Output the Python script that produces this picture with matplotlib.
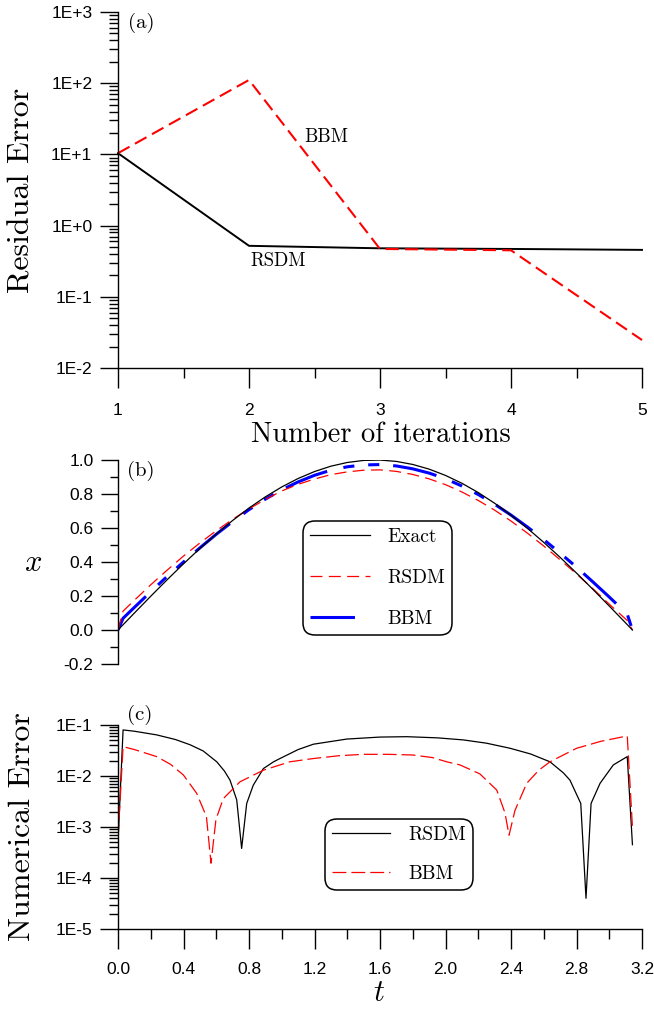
import numpy as np
import matplotlib
matplotlib.use("Agg")
import matplotlib.pyplot as plt
from matplotlib.ticker import FixedLocator, LogLocator, NullFormatter, FuncFormatter, MultipleLocator

# ---------------- data ----------------
# (a) residual error per iteration
iterations = [1, 2, 3, 4, 5]
rsdm_residual = [10.4, 0.52, 0.48, 0.47, 0.456]
bbm_residual = [10.4, 111.0, 0.47, 0.45, 0.0247]

# (b) solution x(t)
t_sol = [0.0, 0.031, 0.1, 0.2, 0.3, 0.4, 0.5, 0.6, 0.7, 0.8, 0.9, 1.0, 1.1, 1.2,
         1.3, 1.4, 1.5, 1.6, 1.7, 1.8, 1.9, 2.0, 2.1, 2.2, 2.3, 2.4, 2.5, 2.6,
         2.7, 2.8, 2.9, 3.0, 3.11, 3.1416]
x_exact = [0.0, 0.031, 0.0998, 0.1987, 0.2955, 0.3894, 0.4794, 0.5646, 0.6442,
           0.7174, 0.7833, 0.8415, 0.8912, 0.9320, 0.9636, 0.9854, 0.9975, 0.9996,
           0.9917, 0.9738, 0.9463, 0.9093, 0.8632, 0.8085, 0.7457, 0.6755, 0.5985,
           0.5155, 0.4274, 0.3350, 0.2392, 0.1411, 0.0316, 0.0]
x_rsdm = [0.0, 0.111, 0.175, 0.266, 0.352, 0.435, 0.512, 0.584, 0.651, 0.713,
          0.768, 0.818, 0.857, 0.888, 0.914, 0.930, 0.940, 0.942, 0.933, 0.915,
          0.889, 0.855, 0.812, 0.762, 0.705, 0.641, 0.570, 0.494, 0.413, 0.330,
          0.243, 0.152, 0.056, 0.0]
x_bbm = [0.0, 0.069, 0.133, 0.225, 0.315, 0.400, 0.483, 0.563, 0.638, 0.708,
         0.770, 0.825, 0.871, 0.910, 0.940, 0.960, 0.971, 0.973, 0.965, 0.948,
         0.923, 0.890, 0.847, 0.797, 0.740, 0.676, 0.606, 0.532, 0.452, 0.370,
         0.283, 0.194, 0.093, 0.0]

# (c) absolute numerical error
t_err_rsdm = [0.0, 0.031, 0.1, 0.236, 0.35, 0.44, 0.52, 0.603, 0.65, 0.684, 0.725,
              0.755, 0.786, 0.826, 0.888, 0.95, 0.989, 1.1, 1.193, 1.397, 1.6, 1.763,
              1.95, 2.109, 2.25, 2.394, 2.52, 2.638, 2.72, 2.76, 2.826, 2.858, 2.889,
              2.944, 3.025, 3.11, 3.1416]
err_rsdm = [5e-4, 0.080, 0.0755, 0.064, 0.052, 0.041, 0.031, 0.019, 0.0125, 0.0083,
            0.0034, 3.8e-4, 0.0029, 0.0066, 0.014, 0.019, 0.022, 0.033, 0.042, 0.053,
            0.058, 0.059, 0.056, 0.051, 0.044, 0.035, 0.027, 0.019, 0.0115, 0.0083,
            0.0029, 4.0e-5, 0.0029, 0.0072, 0.0165, 0.024, 4.5e-4]
t_err_bbm = [0.0, 0.031, 0.1, 0.236, 0.32, 0.399, 0.48, 0.54, 0.568, 0.598, 0.643,
             0.745, 0.888, 1.05, 1.193, 1.35, 1.498, 1.65, 1.80, 1.92, 2.007, 2.088,
             2.21, 2.313, 2.363, 2.388, 2.424, 2.496, 2.57, 2.638, 2.801, 2.95, 3.11,
             3.1416]
err_bbm = [6e-4, 0.0376, 0.033, 0.024, 0.017, 0.0105, 0.0046, 0.0016, 1.95e-4, 0.0014,
           0.0036, 0.0077, 0.013, 0.019, 0.022, 0.025, 0.0266, 0.0266, 0.0258, 0.023,
           0.019, 0.0165, 0.011, 0.0053, 0.0019, 6.9e-4, 0.0021, 0.0072, 0.013, 0.019,
           0.035, 0.048, 0.061, 1.0e-3]

# ---------------- style ----------------
plt.rcParams['mathtext.fontset'] = 'cm'
plt.rcParams['lines.scale_dashes'] = False
plt.rcParams['font.family'] = ['Liberation Sans Narrow', 'Liberation Sans', 'DejaVu Sans']
plt.rcParams['axes.linewidth'] = 1.0

SERIF = 'cmr10'
TICK_SIZE = 12.5
W, H = 654, 1011
fig = plt.figure(figsize=(W / 100, H / 100), dpi=100)


def box(left, top, right, bottom):
    return [left / W, 1 - bottom / H, (right - left) / W, (bottom - top) / H]


def fig_xy(x, y):
    return x / W, 1 - y / H


def power_label(v, _):
    return "1E{:+d}".format(int(round(np.log10(v))))


def plain_label(v, _):
    return "{:.1f}".format(v)


def base_style(ax):
    for s in ('top', 'right'):
        ax.spines[s].set_visible(False)
    ax.tick_params(which='both', direction='out', labelsize=TICK_SIZE, width=1.0, color='black')


# ---------------- (a) ----------------
ax1 = fig.add_axes(box(118, 12, 642, 368))
base_style(ax1)
ax1.set_yscale('log')
ax1.plot(iterations, rsdm_residual, color='black', lw=1.4, clip_on=False)
ax1.plot(iterations, bbm_residual, color='#ff0000', lw=1.5, dashes=(9.5, 4.5), clip_on=False)
ax1.set_xlim(1, 5)
ax1.set_ylim(1e-2, 1e3)
ax1.xaxis.set_major_locator(FixedLocator(iterations))
ax1.xaxis.set_minor_locator(MultipleLocator(0.5))
ax1.yaxis.set_major_locator(LogLocator(base=10, numticks=10))
ax1.yaxis.set_minor_locator(LogLocator(base=10, subs=np.arange(2, 10), numticks=100))
ax1.yaxis.set_major_formatter(FuncFormatter(power_label))
ax1.yaxis.set_minor_formatter(NullFormatter())
ax1.tick_params(axis='y', which='major', length=13, pad=5.5)
ax1.tick_params(axis='y', which='minor', length=6.5)
ax1.tick_params(axis='x', which='major', length=14.5, pad=11)
ax1.tick_params(axis='x', which='minor', length=7.2)
ax1.xaxis.set_major_formatter(FuncFormatter(lambda v, _: "{:d}".format(int(v))))

fig.text(*fig_xy(22, 190), 'Residual Error', rotation=90, family=SERIF, size=23,
         ha='center', va='center')
fig.text(*fig_xy(381, 435), 'Number of iterations', family=SERIF, size=20.5,
         ha='center', va='center')
fig.text(*fig_xy(141, 23), '(a)', family=SERIF, size=15, ha='center', va='center')
fig.text(*fig_xy(326, 137), 'BBM', family=SERIF, size=13.5, ha='center', va='center')
fig.text(*fig_xy(278, 261), 'RSDM', family=SERIF, size=13.5, ha='center', va='center')

# ---------------- (b) ----------------
ax2 = fig.add_axes(box(118, 460, 642, 664))
base_style(ax2)
ax2.spines['bottom'].set_visible(False)
ax2.plot(t_sol, x_bbm, color='#0000ff', lw=2.2, dashes=(32, 12, 8, 10, 8, 10), label='BBM',
         solid_capstyle='butt', dash_capstyle='butt')
ax2.plot(t_sol, x_rsdm, color='#ff0000', lw=0.9, dashes=(8.6, 4.6), label='RSDM')
ax2.plot(t_sol, x_exact, color='black', lw=0.9, label='Exact')
ax2.set_xlim(0, 3.2)
ax2.set_ylim(-0.2, 1.0)
ax2.set_xticks([])
ax2.yaxis.set_major_locator(MultipleLocator(0.2))
ax2.yaxis.set_minor_locator(MultipleLocator(0.1))
ax2.yaxis.set_major_formatter(FuncFormatter(plain_label))
ax2.tick_params(axis='y', which='major', length=12.2, pad=5.5)
ax2.tick_params(axis='y', which='minor', length=5.8)

h, l = ax2.get_legend_handles_labels()
order = [2, 1, 0]
leg2 = ax2.legend([h[i] for i in order], [l[i] for i in order], loc='upper left',
                  bbox_to_anchor=fig_xy(303, 521), bbox_transform=fig.transFigure,
                  borderaxespad=0, prop={'family': SERIF, 'size': 14},
                  handlelength=3.1, handletextpad=0.9, labelspacing=1.2,
                  borderpad=0.35, framealpha=1, fancybox=True)
leg2.get_frame().set_edgecolor('black')
leg2.get_frame().set_linewidth(1.1)
leg2.get_frame().set_boxstyle('round', pad=0, rounding_size=0.6)

fig.text(*fig_xy(33, 563), '$x$', size=22, ha='center', va='center')
fig.text(*fig_xy(141, 471), '(b)', family=SERIF, size=15, ha='center', va='center')

# ---------------- (c) ----------------
ax3 = fig.add_axes(box(118, 725, 642, 929))
base_style(ax3)
ax3.set_yscale('log')
ax3.plot(t_err_rsdm, err_rsdm, color='black', lw=0.9, label='RSDM')
ax3.plot(t_err_bbm, err_bbm, color='#ff0000', lw=0.9, dashes=(10, 3.6), label='BBM')
ax3.set_xlim(0, 3.2)
ax3.set_ylim(1e-5, 1e-1)
ax3.xaxis.set_major_locator(MultipleLocator(0.4))
ax3.xaxis.set_minor_locator(MultipleLocator(0.2))
ax3.xaxis.set_major_formatter(FuncFormatter(plain_label))
ax3.yaxis.set_major_locator(LogLocator(base=10, numticks=10))
ax3.yaxis.set_minor_locator(LogLocator(base=10, subs=np.arange(2, 10), numticks=100))
ax3.yaxis.set_major_formatter(FuncFormatter(power_label))
ax3.yaxis.set_minor_formatter(NullFormatter())
ax3.tick_params(axis='y', which='major', length=13, pad=5.5)
ax3.tick_params(axis='y', which='minor', length=6.5)
ax3.tick_params(axis='x', which='major', length=14.5, pad=9.5)
ax3.tick_params(axis='x', which='minor', length=7.2)

leg3 = ax3.legend(loc='upper left', bbox_to_anchor=fig_xy(325, 819),
                  bbox_transform=fig.transFigure, borderaxespad=0,
                  prop={'family': SERIF, 'size': 14}, handlelength=3.0,
                  handletextpad=0.95, labelspacing=1.1, borderpad=0.35,
                  framealpha=1, fancybox=True)
leg3.get_frame().set_edgecolor('black')
leg3.get_frame().set_linewidth(1.1)
leg3.get_frame().set_boxstyle('round', pad=0, rounding_size=0.6)

fig.text(*fig_xy(22, 827), 'Numerical Error', rotation=90, family=SERIF, size=23,
         ha='center', va='center')
fig.text(*fig_xy(379, 993), '$t$', size=22, ha='center', va='center')
fig.text(*fig_xy(140, 715), '(c)', family=SERIF, size=15, ha='center', va='center')

fig.savefig('out.png', dpi=100)
